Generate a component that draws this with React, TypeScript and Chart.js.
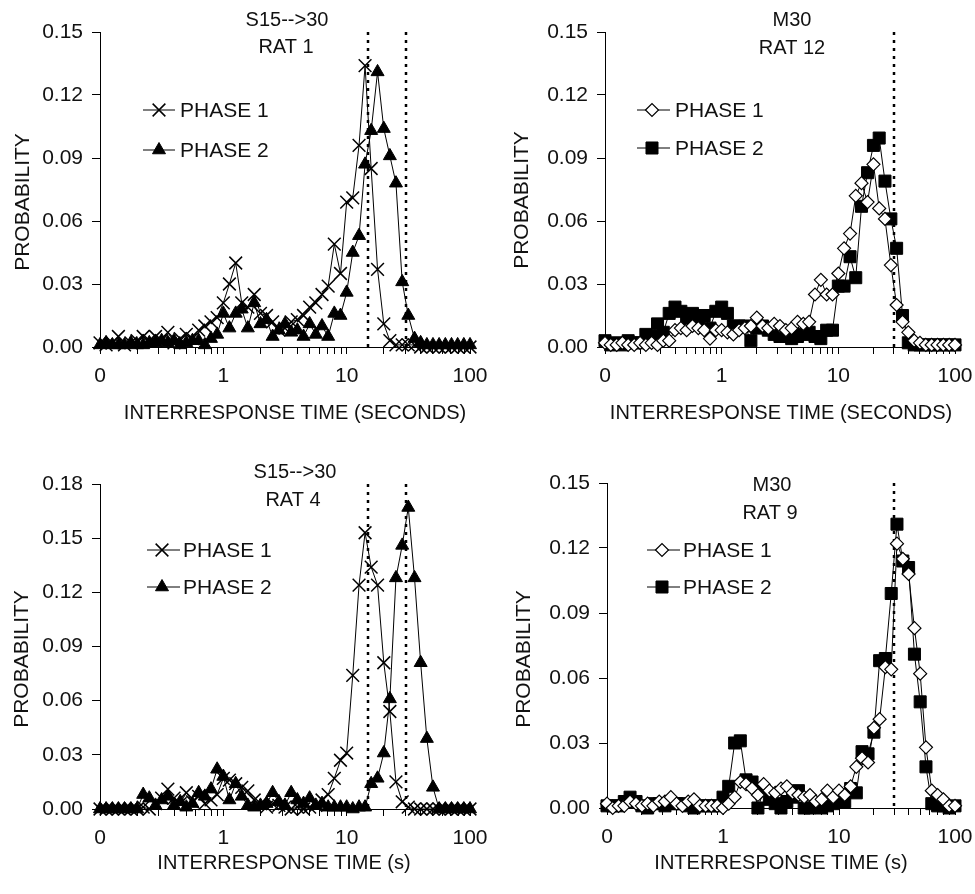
import React, { useEffect, useRef } from "react";
import { Chart, registerables } from "chart.js";

Chart.register(...registerables);

// ---------------- DATA ----------------
// Interresponse-time bin centres (seconds), log-spaced
const BIN_SECONDS = [
  0.1, 0.112, 0.126, 0.141, 0.158, 0.178, 0.2, 0.224, 0.251, 0.282,
  0.316, 0.355, 0.398, 0.447, 0.501, 0.562, 0.631, 0.708, 0.794, 0.891,
  1, 1.12, 1.26, 1.41, 1.58, 1.78, 2, 2.24, 2.51, 2.82,
  3.16, 3.55, 3.98, 4.47, 5.01, 5.62, 6.31, 7.08, 7.94, 8.91,
  10, 11.2, 12.6, 14.1, 15.8, 17.8, 20, 22.4, 25.1, 28.2,
  31.6, 35.5, 39.8, 44.7, 50.1, 56.2, 63.1, 70.8, 79.4, 89.1, 100,
];

const RAT1_PHASE1 = [
  0.002, 0.001, 0.002, 0.005, 0.001, 0.002, 0.003, 0.005, 0.003, 0.005,
  0.003, 0.007, 0.002, 0.004, 0.006, 0.004, 0.008, 0.010, 0.012, 0.014,
  0.021, 0.030, 0.040, 0.021, 0.019, 0.025, 0.016, 0.015, 0.012, 0.008,
  0.009, 0.012, 0.013, 0.015, 0.019, 0.021, 0.025, 0.029, 0.049, 0.035,
  0.069, 0.071, 0.096, 0.134, 0.085, 0.037, 0.011, 0.003, 0.001, 0.001,
  0.001, 0.001, 0, 0, 0, 0, 0, 0, 0, 0, 0,
];
const RAT1_PHASE2 = [
  0.001, 0.002, 0.001, 0.001, 0.001, 0.002, 0.001, 0.001, 0.002, 0.002,
  0.003, 0.002, 0.003, 0.001, 0.002, 0.003, 0.003, 0.001, 0.004, 0.006,
  0.016, 0.009, 0.016, 0.018, 0.009, 0.021, 0.011, 0.013, 0.005, 0.008,
  0.011, 0.007, 0.008, 0.005, 0.011, 0.006, 0.010, 0.005, 0.016, 0.015,
  0.026, 0.045, 0.053, 0.087, 0.103, 0.131, 0.104, 0.091, 0.078, 0.031,
  0.015, 0.004, 0.002, 0.001, 0.001, 0.001, 0.001, 0.001, 0.001, 0.001, 0.001,
];

const RAT12_PHASE1 = [
  0.002, 0.001, 0.001, 0.002, 0.001, 0.001, 0.002, 0.001, 0.002, 0.001,
  0.003, 0.003, 0.008, 0.009, 0.008, 0.010, 0.009, 0.008, 0.004, 0.008,
  0.008, 0.007, 0.006, 0.008, 0.009, 0.010, 0.014, 0.010, 0.009, 0.011,
  0.010, 0.008, 0.009, 0.012, 0.011, 0.012, 0.025, 0.032, 0.025, 0.025,
  0.035, 0.047, 0.054, 0.072, 0.078, 0.069, 0.087, 0.066, 0.061, 0.039,
  0.020, 0.012, 0.007, 0.003, 0.002, 0.001, 0.001, 0.001, 0.001, 0.001, 0.001,
];
const RAT12_PHASE2 = [
  0.003, 0.001, 0.002, 0.001, 0.003, 0.002, 0.002, 0.006, 0.005, 0.011,
  0.007, 0.016, 0.019, 0.017, 0.012, 0.016, 0.011, 0.015, 0.009, 0.017,
  0.019, 0.016, 0.010, 0.010, 0.010, 0.003, 0.009, 0.010, 0.008, 0.006,
  0.005, 0.006, 0.004, 0.005, 0.006, 0.007, 0.005, 0.004, 0.008, 0.008,
  0.029, 0.029, 0.043, 0.033, 0.067, 0.083, 0.096, 0.0995, 0.079, 0.061,
  0.047, 0.015, 0.002, 0.001, 0.001, 0.001, 0.001, 0.001, 0.001, 0.001, 0.001,
];

const RAT4_PHASE1 = [
  0, 0, 0, 0, 0, 0, 0, 0.001, 0, 0.003,
  0.006, 0.011, 0.006, 0.003, 0.009, 0.004, 0.007, 0.003, 0.005, 0.008,
  0.017, 0.016, 0.014, 0.012, 0.010, 0.005, 0.003, 0.001, 0.003, 0.002,
  0.001, 0, 0.001, 0, 0.001, 0.002, 0.005, 0.008, 0.017, 0.027,
  0.031, 0.074, 0.124, 0.153, 0.134, 0.124, 0.081, 0.054, 0.015, 0.004,
  0.001, 0, 0, 0, 0, 0, 0, 0, 0, 0, 0,
];
const RAT4_PHASE2 = [
  0, 0, 0, 0, 0, 0, 0, 0.008, 0.006, 0.002,
  0.005, 0.007, 0.002, 0.004, 0.001, 0.003, 0.009, 0.007, 0.011, 0.022,
  0.018, 0.005, 0.014, 0.007, 0.002, 0.001, 0.002, 0.003, 0.009, 0.004,
  0.002, 0.009, 0.005, 0.003, 0.006, 0.002, 0.003, 0.001, 0.001, 0.001,
  0.001, 0, 0.001, 0.001, 0.014, 0.017, 0.031, 0.061, 0.128, 0.146,
  0.167, 0.128, 0.081, 0.039, 0.012, 0, 0, 0, 0, 0, 0,
];

const RAT9_PHASE1 = [
  0.002, 0, 0.001, 0.001, 0.003, 0.002, 0.001, 0.002, 0.001, 0.003,
  0.003, 0.005, 0.002, 0.001, 0.003, 0.004, 0.001, 0.001, 0.001, 0.001,
  0, 0.002, 0.005, 0.012, 0.011, 0.009, 0.006, 0.011, 0.008, 0.007,
  0.009, 0.010, 0.007, 0.006, 0.005, 0.006, 0.003, 0.004, 0.008, 0.005,
  0.008, 0.006, 0.010, 0.019, 0.023, 0.021, 0.037, 0.041, 0.065, 0.064,
  0.122, 0.115, 0.108, 0.083, 0.062, 0.028, 0.008, 0.006, 0.004, 0.001, 0.001,
];
const RAT9_PHASE2 = [
  0.001, 0.001, 0.001, 0.003, 0.005, 0.003, 0.001, 0, 0.002, 0.002,
  0.001, 0.002, 0.002, 0.002, 0.001, 0, 0.001, 0.001, 0.001, 0.001,
  0.005, 0.010, 0.030, 0.031, 0.013, 0.012, 0, 0.008, 0.004, 0.002,
  0, 0.003, 0.005, 0.008, 0, 0, 0.001, 0, 0.001, 0.002,
  0.003, 0.003, 0.009, 0.007, 0.026, 0.025, 0.035, 0.068, 0.069, 0.099,
  0.131, 0.114, 0.111, 0.071, 0.049, 0.019, 0.002, 0.001, 0.001, 0, 0.001,
];

// Criterion times (dotted vertical lines), seconds
const S15_30_CRITERIA = [15, 30];
const M30_CRITERIA = [30];

// Tick values / labels
const X_TICK_VALUES = [
  0.1, 0.2, 0.3, 0.4, 0.5, 0.6, 0.7, 0.8, 0.9,
  1, 2, 3, 4, 5, 6, 7, 8, 9,
  10, 20, 30, 40, 50, 60, 70, 80, 90, 100,
];
const X_LABELED_VALUES = [0.1, 1, 10, 100];
const X_LABELS = ["0", "1", "10", "100"];
const Y_TICKS_015 = [0, 0.03, 0.06, 0.09, 0.12, 0.15];
const Y_TICKS_018 = [0, 0.03, 0.06, 0.09, 0.12, 0.15, 0.18];

const SERIES_LABELS = ["PHASE 1", "PHASE 2"];
const Y_TITLE = "PROBABILITY";
const X_TITLE_SECONDS = "INTERRESPONSE TIME (SECONDS)";
const X_TITLE_S = "INTERRESPONSE TIME (s)";
const RAT1_TITLE = ["S15-->30", "RAT 1"];
const RAT12_TITLE = ["M30", "RAT 12"];
const RAT4_TITLE = ["S15-->30", "RAT 4"];
const RAT9_TITLE = ["M30", "RAT 9"];

// ---------------- STYLE ----------------
const FONT = '"Liberation Sans", Arial, Helvetica, sans-serif';
const INK = "#111";

type MarkerKey = "cross" | "triangle" | "diamond" | "square";
const MARKERS: Record<MarkerKey, any> = {
  cross: { pointStyle: "crossRot", radius: 9, bg: "#000", border: "#000", bw: 1.5 },
  triangle: { pointStyle: "triangle", radius: 7.5, bg: "#000", border: "#000", bw: 1 },
  diamond: { pointStyle: "rectRot", radius: 6.5, bg: "#fff", border: "#000", bw: 1.2 },
  square: { pointStyle: "rect", radius: 8.5, bg: "#000", border: "#000", bw: 1 },
};

function drawMarker(ctx: CanvasRenderingContext2D, key: MarkerKey, x: number, y: number) {
  const m = MARKERS[key];
  const r = m.radius;
  ctx.save();
  ctx.lineWidth = m.bw;
  ctx.strokeStyle = m.border;
  ctx.fillStyle = m.bg;
  ctx.beginPath();
  if (key === "cross") {
    const o = r * Math.SQRT1_2;
    ctx.moveTo(x - o, y - o);
    ctx.lineTo(x + o, y + o);
    ctx.moveTo(x - o, y + o);
    ctx.lineTo(x + o, y - o);
    ctx.stroke();
  } else if (key === "triangle") {
    const w = r * Math.sin((2 * Math.PI) / 3);
    ctx.moveTo(x, y - r);
    ctx.lineTo(x + w, y + r / 2);
    ctx.lineTo(x - w, y + r / 2);
    ctx.closePath();
    ctx.fill();
    ctx.stroke();
  } else if (key === "diamond") {
    ctx.moveTo(x - r, y);
    ctx.lineTo(x, y - r);
    ctx.lineTo(x + r, y);
    ctx.lineTo(x, y + r);
    ctx.closePath();
    ctx.fill();
    ctx.stroke();
  } else {
    const s = r * Math.SQRT1_2;
    ctx.rect(x - s, y - s, 2 * s, 2 * s);
    ctx.fill();
    ctx.stroke();
  }
  ctx.restore();
}

// ---------------- PANELS ----------------
const PANELS = [
  {
    key: "rat1",
    box: { left: 0, top: 0, width: 487, height: 440 },
    area: { left: 100, right: 470, top: 32, bottom: 347 },
    yTicks: Y_TICKS_015,
    criteria: S15_30_CRITERIA,
    series: [
      { data: RAT1_PHASE1, marker: "cross" as MarkerKey },
      { data: RAT1_PHASE2, marker: "triangle" as MarkerKey },
    ],
    title: RAT1_TITLE,
    titlePos: [[287, 20], [286, 47]],
    xTitle: X_TITLE_SECONDS,
    xTitlePos: [295, 413],
    yTitlePos: [23, 202],
    legend: { x0: 143, x1: 175, mx: 159, tx: 180, rows: [110, 150] },
  },
  {
    key: "rat12",
    box: { left: 487, top: 0, width: 488, height: 440 },
    area: { left: 118, right: 468, top: 32, bottom: 347 },
    yTicks: Y_TICKS_015,
    criteria: M30_CRITERIA,
    series: [
      { data: RAT12_PHASE1, marker: "diamond" as MarkerKey },
      { data: RAT12_PHASE2, marker: "square" as MarkerKey },
    ],
    title: RAT12_TITLE,
    titlePos: [[305, 20], [305, 48]],
    xTitle: X_TITLE_SECONDS,
    xTitlePos: [294, 413],
    yTitlePos: [35, 200],
    legend: { x0: 150, x1: 183, mx: 165, tx: 188, rows: [110, 148] },
  },
  {
    key: "rat4",
    box: { left: 0, top: 440, width: 487, height: 454 },
    area: { left: 100, right: 470, top: 44, bottom: 369 },
    yTicks: Y_TICKS_018,
    criteria: S15_30_CRITERIA,
    series: [
      { data: RAT4_PHASE1, marker: "cross" as MarkerKey },
      { data: RAT4_PHASE2, marker: "triangle" as MarkerKey },
    ],
    title: RAT4_TITLE,
    titlePos: [[295, 32], [293, 60]],
    xTitle: X_TITLE_S,
    xTitlePos: [284, 423],
    yTitlePos: [22, 219],
    legend: { x0: 147, x1: 180, mx: 162, tx: 183, rows: [110, 147] },
  },
  {
    key: "rat9",
    box: { left: 487, top: 440, width: 488, height: 454 },
    area: { left: 120, right: 468, top: 43, bottom: 368 },
    yTicks: Y_TICKS_015,
    criteria: M30_CRITERIA,
    series: [
      { data: RAT9_PHASE1, marker: "diamond" as MarkerKey },
      { data: RAT9_PHASE2, marker: "square" as MarkerKey },
    ],
    title: RAT9_TITLE,
    titlePos: [[285, 45], [283, 73]],
    xTitle: X_TITLE_S,
    xTitlePos: [294, 423],
    yTitlePos: [37, 219],
    legend: { x0: 160, x1: 193, mx: 175, tx: 196, rows: [110, 147] },
  },
];

type PanelCfg = (typeof PANELS)[number];

function makeDecor(p: PanelCfg) {
  return {
    id: "decor_" + p.key,
    beforeDatasetsDraw(chart: any) {
      const { ctx, chartArea } = chart;
      const xs = chart.scales.x;
      ctx.save();
      ctx.strokeStyle = "#000";
      ctx.lineWidth = 2.5;
      ctx.setLineDash([3, 5]);
      p.criteria.forEach((v) => {
        const x = Math.round(xs.getPixelForValue(v));
        ctx.beginPath();
        ctx.moveTo(x, chartArea.top);
        ctx.lineTo(x, chartArea.bottom);
        ctx.stroke();
      });
      ctx.restore();
    },
    afterDraw(chart: any) {
      const { ctx } = chart;
      ctx.save();
      ctx.fillStyle = INK;
      ctx.textAlign = "center";
      ctx.textBaseline = "middle";
      ctx.font = `20px ${FONT}`;
      p.title.forEach((t, i) => ctx.fillText(t, p.titlePos[i][0], p.titlePos[i][1]));
      ctx.font = `20px ${FONT}`;
      ctx.fillText(p.xTitle, p.xTitlePos[0], p.xTitlePos[1]);
      ctx.save();
      ctx.translate(p.yTitlePos[0], p.yTitlePos[1]);
      ctx.rotate(-Math.PI / 2);
      ctx.font = `21px ${FONT}`;
      ctx.fillText(Y_TITLE, 0, 0);
      ctx.restore();
      // legend
      const L = p.legend;
      ctx.font = `21px ${FONT}`;
      ctx.textAlign = "left";
      p.series.forEach((s, i) => {
        const y = L.rows[i];
        ctx.strokeStyle = "#000";
        ctx.lineWidth = 1;
        ctx.beginPath();
        ctx.moveTo(L.x0, y);
        ctx.lineTo(L.x1, y);
        ctx.stroke();
        drawMarker(ctx, s.marker, L.mx, y);
        ctx.fillStyle = INK;
        ctx.fillText(SERIES_LABELS[i], L.tx, y + 1);
      });
      ctx.restore();
    },
  };
}

function Panel({ p }: { p: PanelCfg }) {
  const ref = useRef<HTMLCanvasElement>(null);
  useEffect(() => {
    const yMax = p.yTicks[p.yTicks.length - 1];
    const chart = new Chart(ref.current as HTMLCanvasElement, {
      type: "scatter",
      data: {
        datasets: p.series.map((s, i) => {
          const m = MARKERS[s.marker];
          return {
            label: SERIES_LABELS[i],
            data: BIN_SECONDS.map((x, k) => ({ x, y: s.data[k] })),
            showLine: true,
            borderColor: "#000",
            borderWidth: 1,
            tension: 0,
            pointStyle: m.pointStyle,
            pointRadius: m.radius,
            pointBackgroundColor: m.bg,
            pointBorderColor: m.border,
            pointBorderWidth: m.bw,
            pointHoverRadius: m.radius,
            clip: false as any,
          };
        }),
      },
      options: {
        animation: false,
        responsive: false,
        maintainAspectRatio: false,
        events: [],
        layout: {
          padding: { left: 0, top: p.area.top, right: p.box.width - p.area.right, bottom: 0 },
        },
        plugins: {
          legend: { display: false },
          title: { display: false },
          tooltip: { enabled: false },
        },
        scales: {
          x: {
            type: "logarithmic",
            position: "bottom",
            min: 0.1,
            max: 100,
            afterBuildTicks: (s: any) => {
              s.ticks = X_TICK_VALUES.map((v) => ({ value: v }));
            },
            afterFit: (s: any) => {
              s.height = p.box.height - p.area.bottom;
              s.paddingLeft = 0;
              s.paddingRight = 0;
            },
            ticks: {
              autoSkip: false,
              maxRotation: 0,
              minRotation: 0,
              padding: 10,
              color: INK,
              font: { family: FONT, size: 21 },
              callback: (v: any) => {
                const idx = X_LABELED_VALUES.findIndex((t) => Math.abs(t - Number(v)) < 1e-9);
                return idx >= 0 ? X_LABELS[idx] : "";
              },
            },
            grid: {
              display: true,
              drawOnChartArea: false,
              drawTicks: true,
              tickLength: 7,
              color: "#000",
              lineWidth: 1,
            },
            border: { display: true, color: "#000", width: 1 },
          },
          y: {
            type: "linear",
            min: 0,
            max: yMax,
            afterBuildTicks: (s: any) => {
              s.ticks = p.yTicks.map((v) => ({ value: v }));
            },
            afterFit: (s: any) => {
              s.width = p.area.left;
              s.paddingTop = 0;
              s.paddingBottom = 0;
            },
            ticks: {
              padding: 9,
              color: INK,
              font: { family: FONT, size: 21 },
              callback: (v: any) => Number(v).toFixed(2),
            },
            grid: {
              display: true,
              drawOnChartArea: false,
              drawTicks: true,
              tickLength: 8,
              color: "#000",
              lineWidth: 1,
            },
            border: { display: true, color: "#000", width: 1 },
          },
        },
      } as any,
      plugins: [makeDecor(p)],
    });
    return () => chart.destroy();
  }, []);
  return (
    <canvas
      ref={ref}
      width={p.box.width}
      height={p.box.height}
      style={{
        position: "absolute",
        left: p.box.left,
        top: p.box.top,
        width: p.box.width,
        height: p.box.height,
      }}
    />
  );
}

export default function App() {
  return (
    <div style={{ position: "absolute", left: 0, top: 0, width: 975, height: 894, background: "#fff" }}>
      {PANELS.map((p) => (
        <Panel key={p.key} p={p} />
      ))}
    </div>
  );
}
